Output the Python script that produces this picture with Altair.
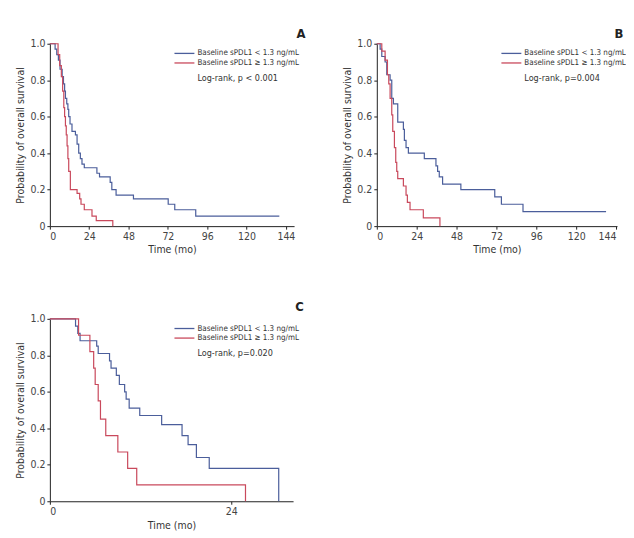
import altair as alt
import pandas as pd

LBL_LOW = "Baseline sPDL1 < 1.3 ng/mL"
LBL_HIGH = "Baseline sPDL1 \u2265 1.3 ng/mL"

# Panel A
a_low_t = [0, 3.2, 4.2, 5.2, 6.2, 7.5, 8.3, 9.0, 9.5, 10.3, 11.0, 11.5, 12.3, 13.5, 15.6, 16.6, 17.6, 18.6, 19.6, 21, 28.7, 30.3, 36.8, 37.8, 40.4, 51, 72.2, 76.2, 89, 140]
a_low_s = [1.0, 0.97, 0.94, 0.91, 0.86, 0.82, 0.78, 0.74, 0.70, 0.67, 0.64, 0.60, 0.56, 0.52, 0.50, 0.45, 0.40, 0.37, 0.34, 0.32, 0.29, 0.27, 0.24, 0.20, 0.17, 0.15, 0.12, 0.09, 0.055, 0.055]
a_high_t = [0, 5, 6, 7, 7.8, 8.5, 9.0, 9.5, 10, 10.5, 11, 11.5, 12.5, 16.6, 18.2, 19, 21, 25.7, 28.3, 38.4]
a_high_s = [1.0, 0.94, 0.88, 0.82, 0.74, 0.65, 0.60, 0.55, 0.50, 0.44, 0.37, 0.30, 0.20, 0.18, 0.15, 0.12, 0.09, 0.055, 0.03, 0.0]

# Panel B
b_low_t = [0, 2, 3, 5, 6, 8, 9, 10, 12.6, 16, 16.6, 17.6, 19, 28.6, 35.6, 36.6, 37.6, 39.6, 50.6, 71, 75, 88, 138]
b_low_s = [1.0, 0.97, 0.93, 0.90, 0.83, 0.80, 0.70, 0.67, 0.57, 0.53, 0.47, 0.43, 0.40, 0.37, 0.33, 0.30, 0.27, 0.23, 0.20, 0.16, 0.12, 0.08, 0.08]
b_high_t = [0, 3, 5, 6.4, 7.2, 8, 9, 9.6, 10.6, 11.4, 12, 12.6, 16, 17.6, 18.4, 20, 28, 38]
b_high_s = [1.0, 0.96, 0.91, 0.83, 0.78, 0.70, 0.61, 0.52, 0.43, 0.35, 0.30, 0.26, 0.22, 0.17, 0.13, 0.09, 0.045, 0.0]

# Panel C
c_low_t = [0, 3.4, 3.7, 4.0, 6.2, 6.4, 7.9, 8.1, 8.8, 9.2, 9.9, 10.1, 10.5, 11.9, 14.8, 17.5, 18.3, 19.4, 21.1, 30.3]
c_low_s = [1.0, 0.96, 0.92, 0.88, 0.85, 0.81, 0.77, 0.73, 0.69, 0.64, 0.60, 0.56, 0.51, 0.47, 0.42, 0.36, 0.31, 0.24, 0.18, 0.0]
c_high_t = [0, 3.8, 5.3, 5.8, 6.0, 6.4, 6.7, 7.4, 9.0, 10.3, 11.5, 25.9]
c_high_s = [1.0, 0.91, 0.82, 0.73, 0.64, 0.55, 0.45, 0.36, 0.27, 0.18, 0.09, 0.0]

panels = [
    ("A", a_low_t, a_low_s, a_high_t, a_high_s, "Log-rank, p < 0.001"),
    ("B", b_low_t, b_low_s, b_high_t, b_high_s, "Log-rank, p=0.004"),
    ("C", c_low_t, c_low_s, c_high_t, c_high_s, "Log-rank, p=0.020"),
]

FONT = "Liberation Sans Narrow, DejaVu Sans Condensed, sans-serif"
BLUE = "#4b5e9b"
RED = "#c9495c"


def make_panel(letter, lt, ls, ht, hs, logrank, xmax, width, xticks, title_pad,
               letter_dx, letter_dy):
    df = pd.concat([
        pd.DataFrame({"t": lt, "s": ls, "g": LBL_LOW, "o": 0}),
        pd.DataFrame({"t": ht, "s": hs, "g": LBL_HIGH, "o": 1}),
    ])
    lines = alt.Chart(df).mark_line(interpolate="step-after", strokeWidth=1.2).encode(
        x=alt.X("t:Q", scale=alt.Scale(domain=[0, xmax], nice=False),
                axis=alt.Axis(values=xticks, title="Time (mo)", titlePadding=title_pad)),
        y=alt.Y("s:Q", scale=alt.Scale(domain=[0, 1], nice=False),
                axis=alt.Axis(values=[0, 0.2, 0.4, 0.6, 0.8, 1.0],
                              labelExpr="datum.value == 0 ? '0' : format(datum.value, '.1f')",
                              title="Probability of overall survival", titlePadding=4)),
        color=alt.Color("g:N", scale=alt.Scale(domain=[LBL_LOW, LBL_HIGH], range=[BLUE, RED]),
                        legend=None),
        order="o:Q",
    )
    info = pd.DataFrame({"lr": [logrank], "letter": [letter], "low": [LBL_LOW], "high": [LBL_HIGH]})
    base = alt.Chart(info)
    key_low = base.mark_rule(color=BLUE, strokeWidth=1.3).encode(
        x=alt.value(125), x2=alt.value(145), y=alt.value(9.7))
    key_high = base.mark_rule(color=RED, strokeWidth=1.3).encode(
        x=alt.value(125), x2=alt.value(145), y=alt.value(19.3))
    txt_low = base.mark_text(align="left", baseline="middle", fontSize=8, font=FONT,
                             color="#333").encode(x=alt.value(148), y=alt.value(9.7), text="low:N")
    txt_high = base.mark_text(align="left", baseline="middle", fontSize=8, font=FONT,
                              color="#333").encode(x=alt.value(148), y=alt.value(19.3), text="high:N")
    lr = base.mark_text(align="left", baseline="middle", fontSize=9,
                        font=FONT, color="#333").encode(
        x=alt.value(148), y=alt.value(34), text="lr:N")
    let = base.mark_text(align="center", baseline="middle", fontSize=13,
                         font=FONT, fontWeight="bold", color="#222").encode(
        x=alt.value(width + letter_dx), y=alt.value(letter_dy), text="letter:N")
    return alt.layer(lines, key_low, key_high, txt_low, txt_high, lr, let).properties(
        width=width, height=183)


pa = make_panel(*panels[0], xmax=149, width=245, xticks=[0, 24, 48, 72, 96, 120, 144],
                title_pad=3, letter_dx=7, letter_dy=-10)
pb = make_panel(*panels[1], xmax=144.6, width=241, xticks=[0, 24, 48, 72, 96, 120, 144],
                title_pad=3, letter_dx=2, letter_dy=-10)
pc = make_panel(*panels[2], xmax=32.2, width=244, xticks=[0, 24],
                title_pad=4, letter_dx=6.5, letter_dy=-12)

top = alt.hconcat(pa, pb, spacing=36)
chart = alt.vconcat(top, pc, spacing=46).properties(
    padding={"left": 7, "top": 19, "right": 0, "bottom": 0}
).configure_view(stroke=None).configure_axis(
    grid=False, domainColor="#222", tickColor="#222", tickSize=3,
    labelFont=FONT, labelFontSize=10.5, labelColor="#444", labelPadding=2,
    titleFont=FONT, titleFontSize=10.5, titleFontWeight="normal", titleColor="#333"
)

chart.save("out.html", embed_options={"renderer": "svg", "actions": False})
